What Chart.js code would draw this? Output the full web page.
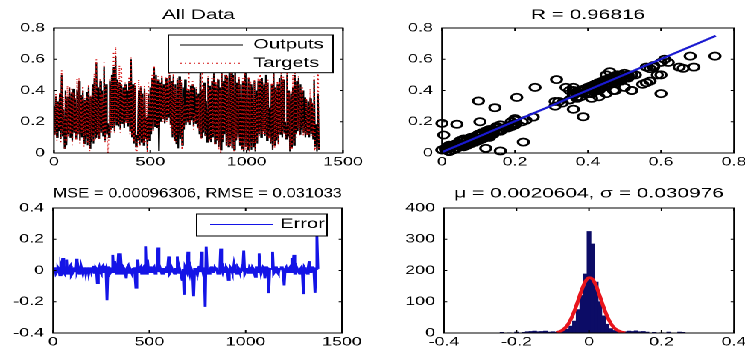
<!DOCTYPE html>
<html lang="en">
<head>
  <meta charset="UTF-8" />
  <title>Network fit: all data, regression, error, histogram</title>
  <script src="https://cdn.jsdelivr.net/npm/chart.js"></script>
  <style>
    html, body { margin: 0; padding: 0; background: #fff; overflow: hidden; }
    /* the figure is laid out 500px wide and stretched, like the source picture */
    #fig {
      position: absolute; left: 0; top: 0;
      width: 500px; height: 352px;
      transform: scaleX(1.49); transform-origin: 0 0;
    }
    #fig canvas { position: absolute; }
  </style>
</head>
<body>
  <div id="fig">
    <canvas id="allData" width="262" height="176" style="left:0;top:0"></canvas>
    <canvas id="regress" width="238" height="176" style="left:262px;top:0"></canvas>
    <canvas id="errPlot" width="262" height="176" style="left:0;top:176px"></canvas>
    <canvas id="errHist" width="238" height="176" style="left:262px;top:176px"></canvas>
  </div>

  <script>
    // one sample every 5 steps (0 .. 1375)
    const sampleStep = 5;

    const outputs = [
      .30,.12,.36,.10,.33,.14,.38,.09,.50,.11,
      .28,.03,.40,.05,.36,.12,.42,.10,.38,.08,
      .41,.13,.35,.09,.40,.12,.46,.08,.37,.10,
      .40,.06,.34,.09,.39,.05,.42,.03,.36,.07,
      .44,.06,.48,.10,.58,.12,.42,.09,.46,.13,
      .40,.11,.55,.08,.44,.12,.19,.10,.46,.15,
      .50,.16,.55,.14,.62,.18,.47,.17,.45,.15,
      .44,.19,.42,.16,.44,.20,.40,.17,.46,.14,
      .60,.10,.44,.06,.43,.04,.115,.08,.40,.05,
      .42,.07,.38,.05,.41,.09,.232,.02,.38,.08,
      .42,.12,.48,.15,.55,.17,.50,.16,.47,.013,
      .45,.20,.48,.22,.44,.19,.48,.21,.46,.23,
      .50,.18,.46,.10,.49,.08,.44,.06,.47,.03,
      .49,.09,.45,.05,.42,.15,.47,.18,.40,.20,
      .40,.18,.43,.21,.44,.17,.42,.19,.41,.16,
      .38,.12,.54,.10,.40,.13,.45,.11,.333,.07,
      .48,.09,.43,.07,.46,.10,.51,.06,.44,.08,
      .47,.04,.42,.02,.55,.07,.46,.12,.50,.05,
      .48,.04,.52,.06,.56,.03,.50,.02,.58,.08,
      .45,.10,.47,.05,.44,.03,.46,.01,.62,.04,
      .45,.02,.48,.03,.44,.02,.42,.04,.46,.01,
      .40,.06,.46,.12,.46,.10,.48,.14,.44,.11,
      .50,.08,.45,.10,.29,.06,.44,.02,.542,.05,
      .42,.08,.44,.06,.48,.12,.50,.10,.47,.13,
      .20,.09,.50,.11,.40,.01,.38,.03,.42,.05,
      .50,.12,.46,.14,.48,.12,.44,.15,.40,.13,
      .356,.10,.34,.12,.33,.10,.35,.12,.32,.09,
      .47,.04,.184,.01,.38,.02
    ];

    const targets = [
      .31,.11,.38,.08,.32,.16,.39,.06,.53,.12,
      .36,.02,.38,.07,.43,.10,.43,.12,.41,.05,
      .39,.14,.37,.08,.475,.12,.48,.06,.36,.13,
      .43,.04,.35,.11,.37,.06,.44,.01,.37,.09,
      .43,.07,.51,.08,.60,.13,.34,.09,.48,.12,
      .38,.13,.58,.07,.43,.13,.00,.12,.48,.13,
      .49,.17,.65,.13,.68,.20,.45,.18,.56,.13,
      .55,.20,.40,.18,.45,.19,.35,.19,.49,.12,
      .61,.11,.42,.07,.45,.02,.005,.10,.47,.04,
      .43,.09,.36,.06,.43,.07,.387,.00,.45,.09,
      .41,.14,.50,.14,.56,.19,.48,.17,.49,.16,
      .44,.22,.50,.20,.42,.20,.49,.20,.48,.25,
      .59,.16,.45,.12,.51,.07,.42,.07,.48,.12,
      .47,.11,.47,.02,.36,.16,.314,.20,.42,.19,
      .52,.19,.41,.23,.46,.15,.255,.20,.42,.15,
      .36,.14,.57,.09,.52,.14,.43,.13,.10,.223,
      .49,.07,.41,.08,.48,.12,.50,.05,.46,.09,
      .48,.02,.40,.00,.69,.08,.45,.14,.52,.04,
      .50,.05,.46,.04,.58,.04,.49,.01,.62,.09,
      .43,.08,.49,.06,.43,.02,.48,.02,.748,.02,
      .43,.03,.49,.01,.46,.03,.40,.06,.47,.02,
      .36,.08,.48,.11,.57,.12,.46,.12,.46,.12,
      .45,.10,.47,.09,.145,.07,.45,.03,.661,.03,
      .41,.10,.46,.05,.46,.13,.51,.12,.49,.11,
      .104,.10,.52,.10,.39,.02,.40,.02,.50,.06,
      .60,.10,.44,.16,.50,.11,.42,.16,.42,.11,
      .205,.12,.35,.11,.31,.12,.41,.11,.33,.11,
      .49,.03,.041,.02,.60,.03
    ];

    const errors = [
      .01,-.01,.02,-.02,-.01,.02,.01,-.03,.03,.01,
      .08,-.01,-.02,.02,.07,-.02,.01,.02,.03,-.03,
      -.02,.01,.02,-.01,.075,.00,.02,-.02,-.01,.03,
      .03,-.02,.01,.02,-.02,.01,.02,-.02,.01,.02,
      -.01,.01,.03,-.02,.02,.01,-.08,.00,.02,-.01,
      -.02,.02,.03,-.01,-.01,.01,-.19,.02,.02,-.02,
      -.01,.01,.10,-.01,.06,.02,-.02,.01,.11,-.02,
      .11,.01,-.02,.02,.01,-.01,-.05,.02,.03,-.02,
      .01,.01,-.02,.01,.02,-.02,-.11,.02,.07,-.01,
      .01,.02,-.02,.01,.02,-.02,.155,-.02,.07,.01,
      -.01,.02,.02,-.01,.01,.02,-.02,.01,.02,.147,
      -.01,.02,.02,-.02,-.02,.01,.01,-.01,.02,.02,
      .09,-.02,-.01,.02,.02,-.01,-.02,.01,.01,.09,
      -.02,.02,.02,-.03,-.06,.01,-.156,.02,.02,-.01,
      .12,.01,-.02,.02,.02,-.02,-.165,.01,.01,-.01,
      -.02,.02,.03,-.01,.12,.01,-.02,.02,-.233,.153,
      .01,-.02,-.02,.01,.02,.02,-.01,-.01,.02,.01,
      .01,-.02,-.02,-.02,.14,.01,-.01,.02,.02,-.01,
      .02,.01,-.06,-.02,.02,.01,-.01,-.01,.04,.01,
      -.02,-.02,.02,.01,-.01,-.01,.02,.01,.128,-.02,
      -.02,.01,.01,-.02,.02,.01,-.02,.02,.01,.01,
      -.04,.02,.02,-.01,.11,.02,-.02,-.02,.02,.01,
      -.05,.02,.02,-.01,-.145,.01,.01,.01,.119,-.02,
      -.01,.02,.02,-.01,-.02,.01,.01,.02,.02,-.02,
      -.096,.01,.02,-.01,-.01,.01,.02,-.01,.08,.01,
      .10,-.02,-.02,.02,.02,-.01,-.02,.01,.02,-.02,
      -.151,.02,.01,-.01,-.02,.02,.06,-.01,.01,.02,
      .02,-.01,-.143,.01,.22,.01
    ];

    // regression line end points (target -> output)
    const fitLineX = [0, 0.75];
    const fitLineY = [0.005, 0.75];

    // error histogram, bin width 0.01
    const binCenters = [-0.24,-0.22,-0.20,-0.18,-0.17,-0.16,-0.15,-0.14,-0.13,-0.12,
      -0.11,-0.10,-0.09,-0.08,-0.07,-0.06,-0.05,-0.04,-0.03,-0.02,
      -0.01,0.00,0.01,0.02,0.03,0.04,0.05,0.06,0.07,0.08,
      0.09,0.10,0.11,0.12,0.13,0.14,0.15,0.16,0.18,0.20,0.22,0.25,0.26];
    const binCounts = [2,1,3,2,4,5,6,4,5,6,
      3,4,3,6,8,12,22,38,75,120,
      189,325,285,163,100,55,28,14,8,6,
      5,4,6,5,7,4,5,3,2,1,3,3,2];

    // fitted normal curve over the histogram
    const gaussX = [-0.09,-0.08,-0.07,-0.06,-0.05,-0.04,-0.03,-0.02,-0.01,0,
      0.01,0.02,0.03,0.04,0.05,0.06,0.07,0.08,0.09,0.10];
    const gaussY = [2,5,12,24,44,71,104,138,165,177,
      172,150,118,84,54,31,16,8,3,1];

    const FONT = "'Liberation Sans', Arial, Helvetica, sans-serif";
    Chart.defaults.font.family = FONT;
    Chart.defaults.color = '#000';

    const sampleX = outputs.map((_, i) => i * sampleStep);
    const pts = (xs, ys) => ys.map((y, i) => ({ x: xs[i], y }));

    function axis(min, max, step, size, isX, pad) {
      return {
        type: 'linear', min, max, offset: false,
        grid: { display: false, drawTicks: false },
        border: { display: false },
        ticks: {
          stepSize: step, padding: pad, autoSkip: false, maxRotation: 0, color: '#000',
          font: { size: 12 },
          callback: v => String(Number(v.toFixed(4)))
        },
        afterFit(s) {
          if (isX) { s.height = size; s.paddingLeft = 0; s.paddingRight = 0; }
          else { s.width = size; s.paddingTop = 0; s.paddingBottom = 0; }
        }
      };
    }

    function title(text, top, bottom) {
      return {
        display: true, text, fullSize: false, color: '#000',
        font: { size: 14, weight: 'normal' },
        padding: { top, bottom }
      };
    }

    // box round the axes, inward ticks on all sides, matlab-like legend
    function frame(lg) {
      return {
        id: 'frame',
        afterDatasetsDraw(chart) {
          const { ctx, chartArea: a, scales } = chart;
          ctx.save();
          ctx.strokeStyle = '#000';
          ctx.lineWidth = 1;
          ctx.beginPath();
          scales.x.ticks.forEach(t => {
            const px = scales.x.getPixelForValue(t.value);
            ctx.moveTo(px, a.bottom); ctx.lineTo(px, a.bottom - 3);
            ctx.moveTo(px, a.top); ctx.lineTo(px, a.top + 3);
          });
          scales.y.ticks.forEach(t => {
            const py = scales.y.getPixelForValue(t.value);
            ctx.moveTo(a.left, py); ctx.lineTo(a.left + 2.2, py);
            ctx.moveTo(a.right, py); ctx.lineTo(a.right - 2.2, py);
          });
          ctx.stroke();
          ctx.strokeRect(a.left, a.top, a.right - a.left, a.bottom - a.top);

          if (lg) {
            const x0 = a.right - lg.right - lg.width;
            const y0 = a.top + lg.top;
            ctx.fillStyle = '#fff';
            ctx.fillRect(x0, y0, lg.width, lg.height);
            ctx.strokeStyle = '#000';
            ctx.strokeRect(x0, y0, lg.width, lg.height);
            ctx.font = '13.5px ' + FONT;
            ctx.textAlign = 'left';
            ctx.textBaseline = 'middle';
            lg.items.forEach((it, i) => {
              const y = y0 + lg.firstRow + i * lg.rowGap;
              ctx.strokeStyle = it.color;
              ctx.lineWidth = it.width;
              ctx.setLineDash(it.dash || []);
              ctx.beginPath();
              ctx.moveTo(x0 + lg.lineFrom, y);
              ctx.lineTo(x0 + lg.lineFrom + lg.lineLen, y);
              ctx.stroke();
              ctx.setLineDash([]);
              ctx.fillStyle = '#000';
              ctx.fillText(it.label, x0 + lg.textAt, y);
            });
          }
          ctx.restore();
        }
      };
    }

    const base = {
      responsive: false,
      animation: false,
      devicePixelRatio: 2,
      events: []
    };

    const noLegend = { display: false };
    const noTip = { enabled: false };

    // All Data
    new Chart(document.getElementById('allData'), {
      type: 'line',
      data: {
        datasets: [
          { label: 'Targets', data: pts(sampleX, targets), borderColor: '#d40c0c', borderWidth: 1,
            borderDash: [1, 3], pointRadius: 0, tension: 0 },
          { label: 'Outputs', data: pts(sampleX, outputs), borderColor: '#000', borderWidth: 1.1,
            pointRadius: 0, tension: 0 }
        ]
      },
      options: Object.assign({}, base, {
        layout: { padding: { right: 31.8 } },
        scales: { x: axis(0, 1500, 500, 23, true, 2), y: axis(0, 0.8, 0.2, 36.2, false, 6) },
        plugins: { legend: noLegend, tooltip: noTip, title: title('All Data', 6.6, 4.6) }
      }),
      plugins: [frame({
        right: 6.7, top: 7, width: 110.5, height: 37.7, firstRow: 10, rowGap: 18.3,
        lineFrom: 8, lineLen: 42, textAt: 57,
        items: [
          { label: 'Outputs', color: '#000', width: 1 },
          { label: 'Targets', color: '#d40c0c', width: 1, dash: [1, 2] }
        ]
      })]
    });

    // Regression
    new Chart(document.getElementById('regress'), {
      type: 'scatter',
      data: {
        datasets: [
          { type: 'line', label: 'Fit', data: pts(fitLineX, fitLineY), borderColor: '#1a1ad0',
            borderWidth: 2, pointRadius: 0 },
          { label: 'Data', data: pts(targets, outputs), pointStyle: 'circle', pointRadius: 3.6,
            borderColor: '#000', backgroundColor: 'rgba(0,0,0,0)', pointBorderWidth: 1.7, clip: false }
        ]
      },
      options: Object.assign({}, base, {
        layout: { padding: { right: 7.4 } },
        scales: { x: axis(0, 0.8, 0.2, 23, true, 2), y: axis(0, 0.8, 0.2, 34.6, false, 6) },
        plugins: { legend: noLegend, tooltip: noTip, title: title('R = 0.96816', 6.6, 4.6) }
      }),
      plugins: [frame(null)]
    });

    // Error
    new Chart(document.getElementById('errPlot'), {
      type: 'line',
      data: {
        datasets: [
          { label: 'Error', data: pts(sampleX, errors), borderColor: '#1414e6', borderWidth: 1.9,
            pointRadius: 0, tension: 0 }
        ]
      },
      options: Object.assign({}, base, {
        layout: { padding: { right: 32.5 } },
        scales: { x: axis(0, 1500, 500, 19, true, 2), y: axis(-0.4, 0.4, 0.2, 35.6, false, 6) },
        plugins: { legend: noLegend, tooltip: noTip, title: title('MSE = 0.00096306, RMSE = 0.031033', 9.1, 6.1) }
      }),
      plugins: [frame({
        right: 10, top: 6, width: 87.5, height: 22, firstRow: 10.5, rowGap: 0,
        lineFrom: 9, lineLen: 42, textAt: 56,
        items: [{ label: 'Error', color: '#1414e6', width: 1 }]
      })]
    });

    // Error histogram
    new Chart(document.getElementById('errHist'), {
      type: 'bar',
      data: {
        datasets: [
          { type: 'line', label: 'Normal fit', data: pts(gaussX, gaussY), borderColor: '#e8141c',
            borderWidth: 2.6, pointRadius: 0, cubicInterpolationMode: 'monotone' },
          { label: 'Errors', data: pts(binCenters, binCounts), backgroundColor: '#0c0c66',
            borderWidth: 0, barPercentage: 1, categoryPercentage: 1 }
        ]
      },
      options: Object.assign({}, base, {
        layout: { padding: { right: 7.4 } },
        scales: { x: axis(-0.4, 0.4, 0.2, 19, true, 2), y: axis(0, 400, 100, 36, false, 6) },
        plugins: { legend: noLegend, tooltip: noTip, title: title('\u03bc = 0.0020604, \u03c3 = 0.030976', 9.1, 6.1) }
      }),
      plugins: [frame(null)]
    });
  </script>
</body>
</html>
